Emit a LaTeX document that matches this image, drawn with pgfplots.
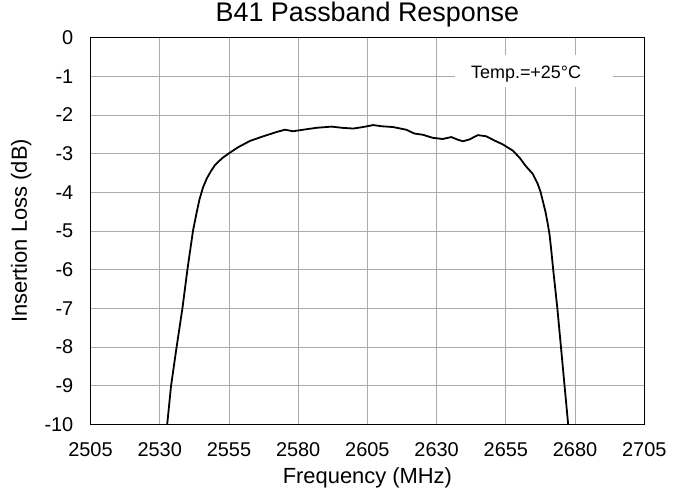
\documentclass[border=0pt]{standalone}
\usepackage{fontspec}
\setmainfont{Liberation Sans}
\usepackage{pgfplots}
\pgfplotsset{compat=1.18}
\begin{document}
\begin{tikzpicture}
\begin{axis}[
  name=ax,
  scale only axis,
  width=553.8bp, height=386.6bp,
  xmin=2505, xmax=2705, ymin=-10, ymax=0,
  xtick={2505,2530,2555,2580,2605,2630,2655,2680,2705},
  xticklabels={2505,2530,2555,2580,2605,2630,2655,2680,2705},
  ytick={-10,-9,-8,-7,-6,-5,-4,-3,-2,-1,0},
  yticklabels={-10,-9,-8,-7,-6,-5,-4,-3,-2,-1,0},
  major tick length=0pt,
  tick label style={font=\fontsize{20}{24}\selectfont, inner sep=0pt},
  xticklabel shift=18bp,
  yticklabel shift=17bp,
  grid=major,
  grid style={black!33, line width=0.8bp},
  axis line style={black, line width=1.3bp},
  title={B41 Passband Response},
  title style={at={([yshift=10.4bp]axis description cs:0.5,1)}, anchor=base, font=\fontsize{27}{30}\selectfont, inner sep=0pt},
  xlabel={Frequency (MHz)},
  xlabel style={at={([yshift=-58.7bp]axis description cs:0.5,0)}, anchor=base, font=\fontsize{22}{26}\selectfont, inner sep=0pt},
  ylabel={Insertion Loss (dB)},
  ylabel style={at={([xshift=-63.5bp]axis description cs:0,0.5)}, anchor=base, rotate=0, font=\fontsize{22}{26}\selectfont, inner sep=0pt},
  clip=true,
]
\fill[white] (axis cs:2636.6,-0.447) rectangle (axis cs:2693.7,-1.283);
\node[anchor=base west, inner sep=0pt, font=\fontsize{18}{20}\selectfont] at (axis cs:2642.4,-1.05) {Temp.=+25°C};
\addplot[black, line width=1.8bp, no markers, line join=round] coordinates {
(2532.7,-10) (2534.1,-9) (2536.1,-8) (2538.2,-7) (2540.0,-6) (2541.0,-5.5) (2542.0,-5)
(2542.7,-4.75) (2543.4,-4.5) (2544.3,-4.2) (2545.6,-3.88) (2547.0,-3.64) (2548.5,-3.45) (2550.0,-3.29)
(2552.5,-3.12) (2555.0,-2.99) (2558.4,-2.83) (2562.6,-2.67) (2567.4,-2.55)
(2572.2,-2.44) (2575.2,-2.38) (2578.2,-2.42) (2581.8,-2.38) (2586.7,-2.33)
(2592.1,-2.30) (2595.7,-2.33) (2599.9,-2.35) (2603.5,-2.31) (2607.1,-2.26)
(2610.0,-2.29) (2612.0,-2.30) (2614.2,-2.31) (2619.0,-2.38) (2622.0,-2.48)
(2625.0,-2.51) (2628.6,-2.59) (2632.2,-2.62) (2635.3,-2.57) (2637.7,-2.64)
(2639.5,-2.68) (2641.9,-2.63) (2644.9,-2.52) (2647.9,-2.55) (2650.9,-2.66)
(2653.9,-2.76) (2657.5,-2.92) (2659.9,-3.10) (2662.3,-3.33) (2664.7,-3.52)
(2666.5,-3.78) (2667.5,-3.98) (2668.3,-4.21) (2669.3,-4.5) (2670.1,-4.8) (2670.8,-5.1) (2671.4,-5.5) (2672.1,-6.0) (2673.6,-7.0)
(2674.9,-8.0) (2676.2,-9.0) (2677.5,-10.0)
};
\end{axis}
\pgfresetboundingbox
\path[use as bounding box] ([xshift=-90.5bp,yshift=-66.7bp]ax.south west) rectangle ++(683bp,491bp);
\end{tikzpicture}
\end{document}
